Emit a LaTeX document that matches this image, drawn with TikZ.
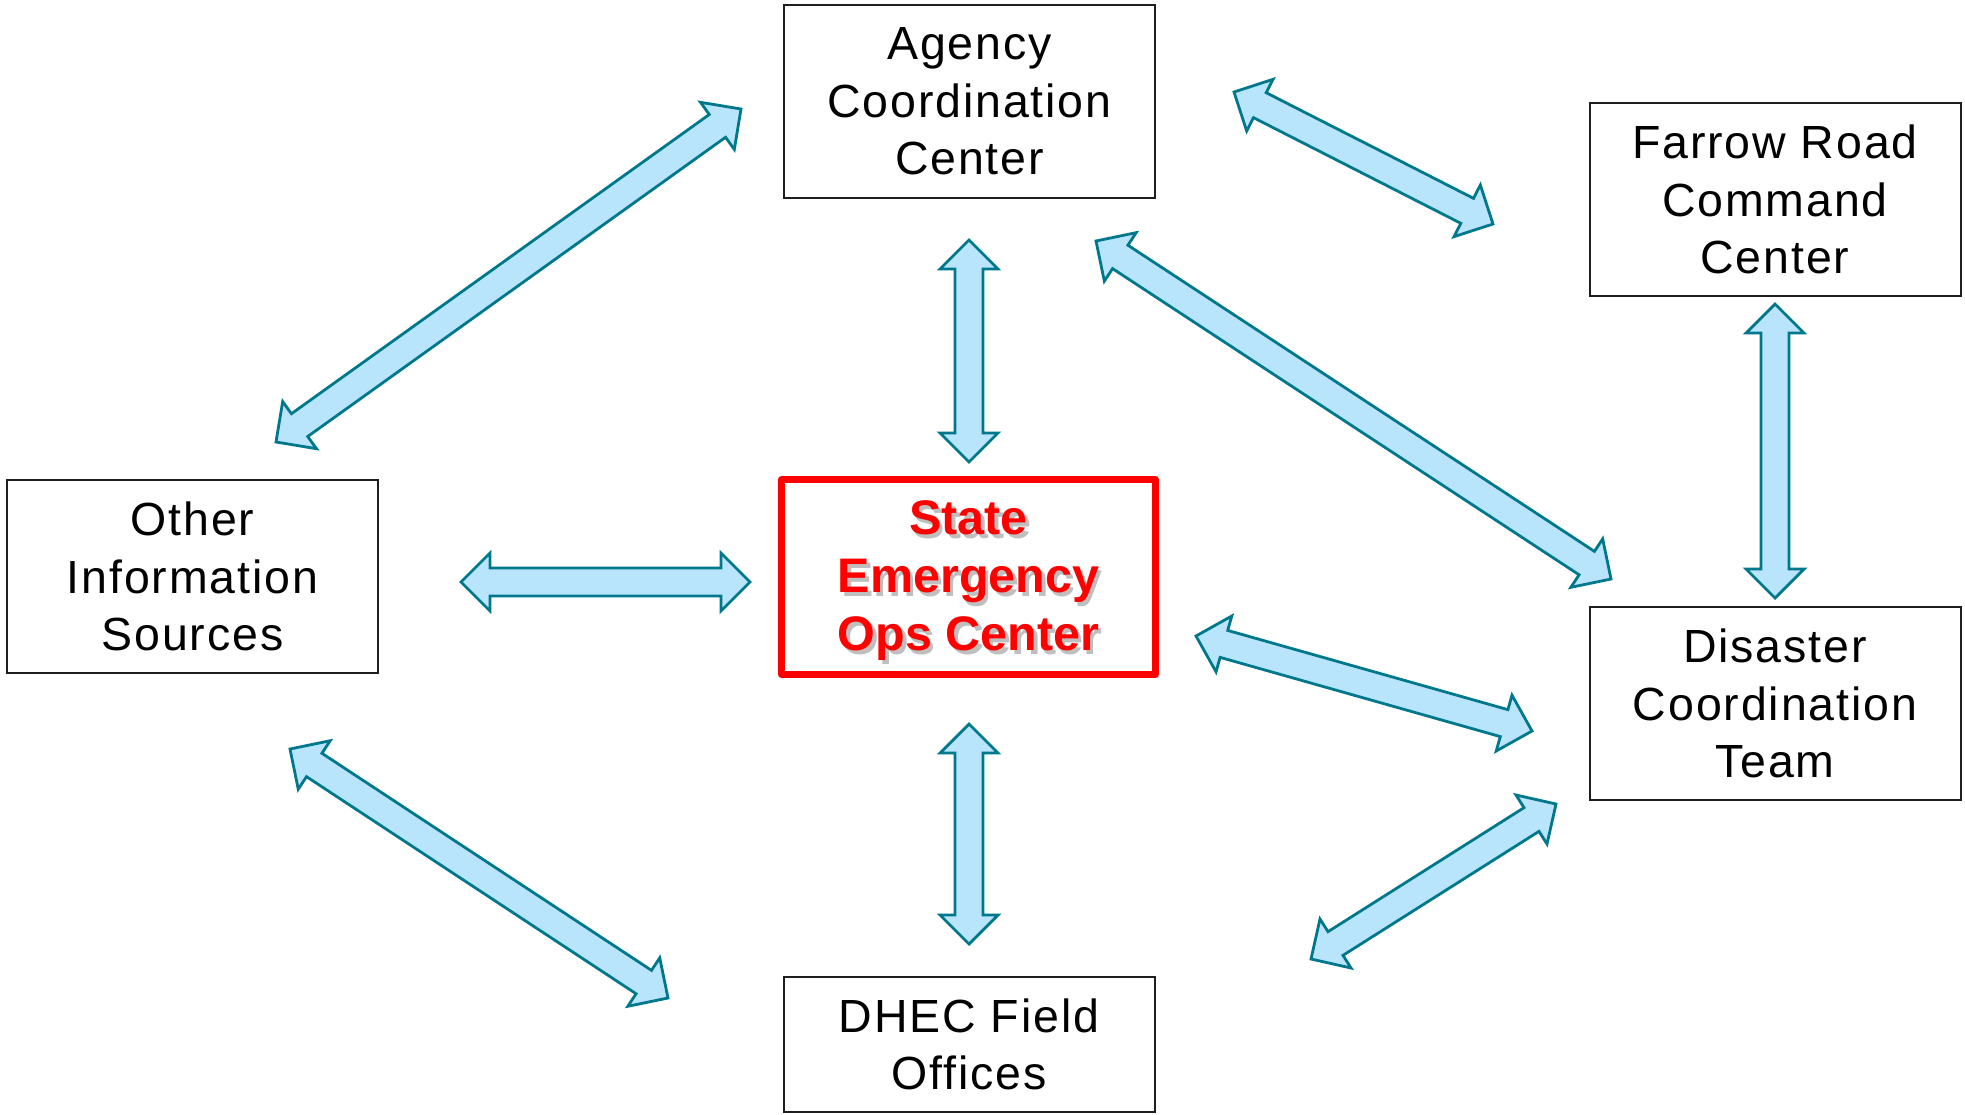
\documentclass[tikz,border=0pt]{standalone}
\usepackage{fontspec}
\setmainfont{Liberation Sans}
\newfontfamily\boxfont{Liberation Sans}[LetterSpace=4]
\newfontfamily\redfont{Liberation Sans}
\usetikzlibrary{calc}
\definecolor{arrfill}{RGB}{185,229,252}
\definecolor{arrline}{RGB}{0,120,140}
\definecolor{boxline}{RGB}{30,30,30}
\tikzset{
  blockarrow/.style={draw=arrline, fill=arrfill, line width=2.8pt, line join=miter},
  infobox/.style={draw=boxline, line width=2pt, align=center, inner sep=0pt,
    minimum width=371pt, font=\boxfont\fontsize{46.5}{57.5}\selectfont},
  redbox/.style={draw=red, line width=7pt, line join=round, minimum width=374pt, minimum height=195pt},
  redtext/.style={align=center, inner sep=0pt, text=red, font=\redfont\bfseries\fontsize{48.5}{58}\selectfont},
  shadowtext/.style={align=center, inner sep=0pt, text=black!50, opacity=0.5, font=\redfont\bfseries\fontsize{48.5}{58}\selectfont}
}
\newcommand\dblarr[2]{%
  \path ($(#1)!29pt!(#2)$) coordinate (ha) ($(#2)!29pt!(#1)$) coordinate (hb);
  \draw[blockarrow] (#1) -- ($(ha)!29pt!90:(#2)$) -- ($(ha)!14pt!90:(#2)$)
    -- ($(hb)!14pt!-90:(#1)$) -- ($(hb)!29pt!-90:(#1)$) -- (#2)
    -- ($(hb)!29pt!90:(#1)$) -- ($(hb)!14pt!90:(#1)$)
    -- ($(ha)!14pt!-90:(#2)$) -- ($(ha)!29pt!-90:(#2)$) -- cycle;
}
\begin{document}
\begin{tikzpicture}[x=1pt,y=-1pt]
\useasboundingbox (0,0) rectangle (1965,1114);
\fill[white] (0,0) rectangle (1965,1114);

% boxes
\node[infobox, minimum height=193pt] (agency) at (969.5,101.5) {Agency\\Coordination\\Center};
\node[infobox, minimum height=193pt] (farrow) at (1775,199.5) {Farrow Road\\Command\\Center};
\node[infobox, minimum height=193pt] (other) at (192.5,576.5) {Other\\Information\\Sources};
\node[infobox, minimum height=193pt] (disaster) at (1775,703.5) {Disaster\\Coordination\\Team};
\node[infobox, minimum height=135pt] (dhec) at (969,1044.5) {DHEC Field\\Offices};
\node[redbox] (seoc) at (968.5,577) {};
\node[shadowtext] (seocshadow) at ($(seoc.center)+(3.5,7.5)$) {State\\Emergency\\Ops Center};
\node[redtext] (seoctext) at ($(seoc.center)+(0,4)$) {State\\Emergency\\Ops Center};

% arrow end points
\coordinate (a1) at (741,109);   \coordinate (b1) at (276,442);
\coordinate (a2) at (969,240);   \coordinate (b2) at (969,462);
\coordinate (a3) at (1234,92);   \coordinate (b3) at (1493,224);
\coordinate (a4) at (1096,241);  \coordinate (b4) at (1611,579);
\coordinate (a5) at (1775,304);  \coordinate (b5) at (1775,598);
\coordinate (a6) at (461,582);   \coordinate (b6) at (750,582);
\coordinate (a7) at (1196,636);  \coordinate (b7) at (1532,731);
\coordinate (a8) at (969,724);   \coordinate (b8) at (969,944);
\coordinate (a9) at (290,749);   \coordinate (b9) at (668,998);
\coordinate (a10) at (1556,804); \coordinate (b10) at (1311,959);

\dblarr{a1}{b1}
\dblarr{a2}{b2}
\dblarr{a3}{b3}
\dblarr{a4}{b4}
\dblarr{a5}{b5}
\dblarr{a6}{b6}
\dblarr{a7}{b7}
\dblarr{a8}{b8}
\dblarr{a9}{b9}
\dblarr{a10}{b10}
\end{tikzpicture}
\end{document}
